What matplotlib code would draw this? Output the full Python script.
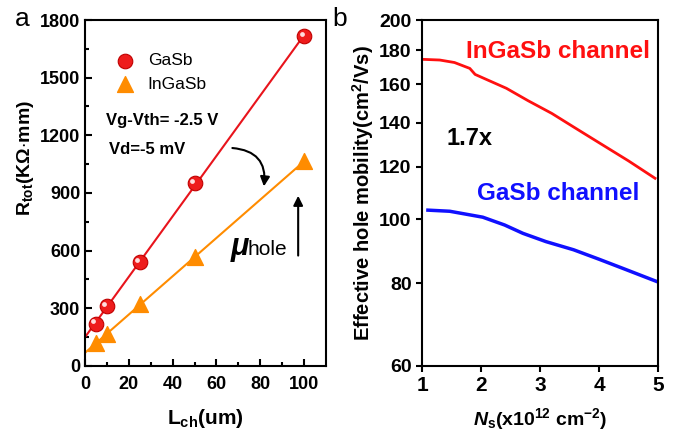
import numpy as np
import matplotlib.pyplot as plt
from matplotlib.transforms import ScaledTranslation

plt.rcParams['font.family'] = ['Liberation Sans', 'DejaVu Sans']
plt.rcParams['mathtext.fontset'] = 'custom'
plt.rcParams['mathtext.rm'] = 'Liberation Sans'
plt.rcParams['mathtext.it'] = 'Liberation Sans:italic:bold'
plt.rcParams['mathtext.bf'] = 'Liberation Sans:bold'

# panel a : total resistance vs channel length
L_ch = [5, 10, 25, 50, 100]
R_gasb = [220, 310, 540, 950, 1715]
R_ingasb = [120, 165, 320, 565, 1065]

# panel b : effective hole mobility vs sheet density
ns_ingasb = [1.02, 1.3, 1.55, 1.81, 1.9, 2.1, 2.43, 2.8, 3.2, 3.56, 4.0, 4.5, 4.95]
mu_ingasb = [174.4, 174.0, 172.5, 169.0, 165.5, 162.5, 157.7, 151.0, 144.5, 138.0, 130.5, 122.5, 115.3]
ns_gasb = [1.1, 1.47, 2.03, 2.4, 2.71, 3.1, 3.57, 4.0, 4.4, 4.98]
mu_gasb = [103.2, 102.8, 100.7, 98.0, 95.2, 92.5, 89.9, 87.0, 84.3, 80.5]

fig = plt.figure(figsize=(6.81, 4.32), dpi=100)
ax1 = fig.add_axes([0.1248, 0.1528, 0.3539, 0.8009])
ax2 = fig.add_axes([0.6197, 0.1528, 0.3465, 0.8009])

# --- panel a ---
xx = np.array([0, 100])
for R, col in [(R_gasb, '#e8141c'), (R_ingasb, '#ff8c00')]:
    p = np.polyfit(L_ch, R, 1)
    ax1.plot(xx, np.polyval(p, xx), color=col, lw=1.5, zorder=2)

ax1.scatter(L_ch, R_gasb, s=110, color='#ee1c1c', edgecolor='#c00000', lw=0.8,
            zorder=3, label='GaSb')
hl = ax1.transData + ScaledTranslation(-0.025, 0.025, fig.dpi_scale_trans)
ax1.scatter(L_ch, R_gasb, s=12, color='#ffdddd', transform=hl, zorder=4, lw=0)
ax1.scatter(L_ch, R_ingasb, s=130, marker='^', color='#ff8c00', zorder=3,
            label='InGaSb')

ax1.set_xlim(0, 110)
ax1.set_ylim(0, 1800)
ax1.set_xticks([0, 20, 40, 60, 80, 100])
ax1.set_xticks([10, 30, 50, 70, 90], minor=True)
ax1.set_yticks([0, 300, 600, 900, 1200, 1500, 1800])
ax1.set_yticks([150, 450, 750, 1050, 1350, 1650], minor=True)
ax1.tick_params(which='both', direction='in', width=1.5, labelsize=13)
ax1.tick_params(axis='x', pad=7)
ax1.tick_params(which='major', length=5)
ax1.tick_params(which='minor', length=3)
for lab in ax1.get_xticklabels() + ax1.get_yticklabels():
    lab.set_fontweight('bold')
ax1.set_xlabel(r'L$_{\mathbf{ch}}$(um)', fontsize=15, fontweight='bold', labelpad=10)
ax1.set_ylabel(r'R$_{\mathbf{tot}}$(K$\mathbf{\Omega}$$\cdot$mm)', fontsize=14,
               fontweight='bold')
ax1.yaxis.set_label_coords(-0.205, 0.6)
ax1.legend(loc='upper left', bbox_to_anchor=(0.03, 0.95), frameon=False,
           fontsize=12.5, handletextpad=0.3, labelspacing=0.5)

ax1.text(9.5, 1255, 'Vg-Vth= -2.5 V', fontsize=12, fontweight='bold')
ax1.text(11, 1105, 'Vd=-5 mV', fontsize=12, fontweight='bold')
ax1.annotate('', xy=(81.5, 920), xytext=(66, 1135),
             arrowprops=dict(arrowstyle='-|>', color='black', lw=1.5,
                             connectionstyle='arc3,rad=-0.55', mutation_scale=14))
ax1.annotate('', xy=(97.3, 900), xytext=(97.3, 560),
             arrowprops=dict(arrowstyle='-|>', color='black', lw=1.5, mutation_scale=14))
ax1.text(66, 575, r'$\mu$', fontsize=22, fontweight='bold')
ax1.text(74, 580, 'hole', fontsize=15)

for sp in ax1.spines.values():
    sp.set_linewidth(1.5)

# --- panel b ---
ax2.plot(ns_ingasb, mu_ingasb, color='#ff1010', lw=2)
ax2.plot(ns_gasb, mu_gasb, color='#1010ff', lw=2.5)
ax2.set_yscale('log')
ax2.set_xlim(1, 5)
ax2.set_ylim(60, 200)
ax2.set_xticks([1, 2, 3, 4, 5])
ax2.set_yticks([60, 80, 100, 120, 140, 160, 180, 200])
ax2.set_yticks([], minor=True)
ax2.set_yticklabels(['60', '80', '100', '120', '140', '160', '180', '200'])
ax2.tick_params(which='both', direction='out', width=1.5, length=4, labelsize=14)
ax2.tick_params(axis='x', labelsize=15)
for lab in ax2.get_xticklabels() + ax2.get_yticklabels():
    lab.set_fontweight('bold')
ax2.set_xlabel(r'$N_{\mathbf{s}}$(x10$^{\mathbf{12}}$ cm$^{\mathbf{-2}}$)',
               fontsize=14, fontweight='bold', labelpad=8)
ax2.set_ylabel(r'Effective hole mobility(cm$^{\mathbf{2}}$/Vs)', fontsize=14.5,
               fontweight='bold')
ax2.yaxis.set_label_coords(-0.195, 0.5)
ax2.text(1.75, 175.5, 'InGaSb channel', color='#ff1010', fontsize=17.5, fontweight='bold')
ax2.text(1.93, 106.8, 'GaSb channel', color='#1010ff', fontsize=17.5, fontweight='bold')
ax2.text(1.42, 129.5, '1.7x', color='black', fontsize=17, fontweight='bold')
for sp in ax2.spines.values():
    sp.set_linewidth(1.5)

fig.text(0.022, 0.955, 'a', fontsize=19, va='center')
fig.text(0.488, 0.955, 'b', fontsize=19, va='center')

fig.savefig('out.png', dpi=100)
